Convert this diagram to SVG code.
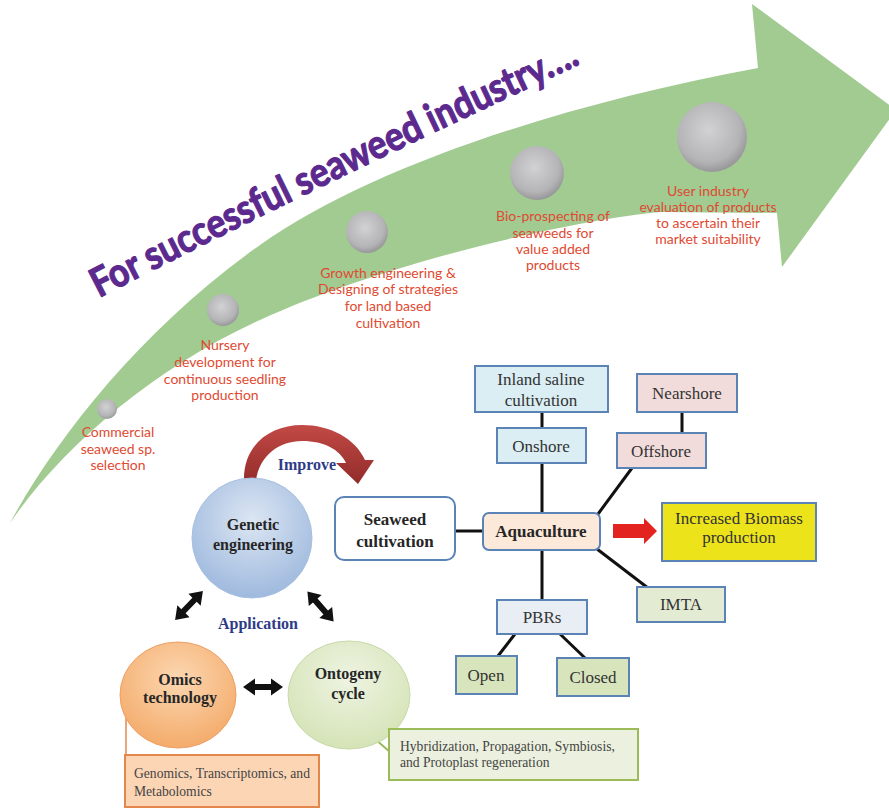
<svg xmlns="http://www.w3.org/2000/svg" width="889" height="808" viewBox="0 0 889 808">
  <defs>
    <radialGradient id="dot" cx="0.45" cy="0.4" r="0.65">
      <stop offset="0" stop-color="#d2d2d4"/>
      <stop offset="0.7" stop-color="#b4b4b6"/>
      <stop offset="1" stop-color="#8e8e90"/>
    </radialGradient>
    <radialGradient id="gBlue" cx="0.5" cy="0.35" r="0.7">
      <stop offset="0" stop-color="#dce6f3"/>
      <stop offset="1" stop-color="#9ab6dc"/>
    </radialGradient>
    <radialGradient id="gOrange" cx="0.5" cy="0.35" r="0.7">
      <stop offset="0" stop-color="#fcd7b2"/>
      <stop offset="1" stop-color="#f3a865"/>
    </radialGradient>
    <radialGradient id="gGreen" cx="0.5" cy="0.35" r="0.7">
      <stop offset="0" stop-color="#eef4e2"/>
      <stop offset="1" stop-color="#d3e2b3"/>
    </radialGradient>
    <linearGradient id="gRed" x1="0" y1="0" x2="0" y2="1">
      <stop offset="0" stop-color="#c24a46"/>
      <stop offset="1" stop-color="#922b2a"/>
    </linearGradient>
    <path id="dbl" d="M -20 0 L -8 -8.5 L -8 -3 L 8 -3 L 8 -8.5 L 20 0 L 8 8.5 L 8 3 L -8 3 L -8 8.5 Z"/>
    <path id="titlePath" d="M 99 298 Q 324 182 602 54"/>
    <style>
      .step { font-family: Lato, "Liberation Sans", sans-serif; font-size: 14px; fill: #df4a32; text-anchor: middle; }
      .box { stroke: #5b83b5; stroke-width: 2; }
      .lbl { font-family: "Liberation Serif", serif; font-size: 17px; fill: #333; text-anchor: middle; }
      .bold { font-weight: bold; fill: #262626; }
      .circ { font-family: "Liberation Serif", serif; font-size: 16px; font-weight: bold; fill: #262626; text-anchor: middle; }
      .navy { font-family: "Liberation Serif", serif; font-size: 16px; font-weight: bold; fill: #2e3b86; text-anchor: middle; }
      .note { font-family: "Liberation Serif", serif; font-size: 13.6px; fill: #444; }
      .link { stroke: #111; stroke-width: 3; fill: none; }
    </style>
  </defs>

  <rect width="889" height="808" fill="#ffffff"/>

  <!-- big curved green arrow -->
  <g id="roadmap">
    <path fill="#a2cb92" d="M 10 523 C 55 440 140 330 260 245 C 370 167 560 105 758 68 L 752 4 L 896 110 L 782 267 L 777 213 L 660 212 C 560 222 380 265 260 320 C 150 370 60 450 10 523 Z"/>
    <text font-family="Lato, 'Liberation Sans', sans-serif" font-weight="bold" font-size="40" fill="#5c2a8e" stroke="#5c2a8e" stroke-width="1.2" stroke-linejoin="round">
      <textPath href="#titlePath" textLength="536" lengthAdjust="spacingAndGlyphs">For successful seaweed industry….</textPath>
    </text>
  </g>

  <g id="step1">
    <circle cx="107" cy="409" r="10" fill="url(#dot)"/>
    <text class="step"><tspan x="118" y="437">Commercial</tspan><tspan x="118" y="453.5">seaweed sp.</tspan><tspan x="118" y="470">selection</tspan></text>
  </g>
  <g id="step2">
    <circle cx="223" cy="310" r="16" fill="url(#dot)"/>
    <text class="step"><tspan x="225" y="350">Nursery</tspan><tspan x="225" y="367">development for</tspan><tspan x="225" y="384">continuous seedling</tspan><tspan x="225" y="400">production</tspan></text>
  </g>
  <g id="step3">
    <circle cx="367" cy="232" r="21" fill="url(#dot)"/>
    <text class="step"><tspan x="388" y="278">Growth engineering &amp;</tspan><tspan x="388" y="294">Designing of strategies</tspan><tspan x="388" y="311">for land based</tspan><tspan x="388" y="328">cultivation</tspan></text>
  </g>
  <g id="step4">
    <circle cx="537" cy="173" r="27" fill="url(#dot)"/>
    <text class="step"><tspan x="553" y="221">Bio-prospecting of</tspan><tspan x="553" y="238">seaweeds for</tspan><tspan x="553" y="254">value added</tspan><tspan x="553" y="270">products</tspan></text>
  </g>
  <g id="step5">
    <circle cx="712" cy="137" r="35" fill="url(#dot)"/>
    <text class="step"><tspan x="708" y="196">User industry</tspan><tspan x="708" y="212">evaluation of products</tspan><tspan x="708" y="228">to ascertain their</tspan><tspan x="708" y="244">market suitability</tspan></text>
  </g>

  <!-- connectors -->
  <g id="connectors">
    <path fill="url(#gRed)" d="M 244 481 C 243 445 270 425 302 425 C 330 425 355 438 365 460 L 374 460 L 358 484 L 336 463 L 346 463 C 340 450 325 441 302 441 C 280 441 259 455 256 481 Z"/>
    <use href="#dbl" fill="#111" transform="translate(189 605.5) rotate(-46)"/>
    <use href="#dbl" fill="#111" transform="translate(320.5 606.5) rotate(49)"/>
    <use href="#dbl" fill="#111" transform="translate(263 687)"/>
    <line x1="126" y1="708" x2="126" y2="755" stroke="#e3884a" stroke-width="1.5"/>
    <line x1="368" y1="733" x2="390" y2="752" stroke="#9bbb59" stroke-width="2"/>
    <line class="link" x1="455" y1="531" x2="483" y2="531"/>
    <line class="link" x1="542" y1="412" x2="542" y2="428"/>
    <line class="link" x1="542" y1="463" x2="542" y2="513"/>
    <line class="link" x1="682" y1="412" x2="682" y2="433"/>
    <line class="link" x1="632" y1="468" x2="598" y2="514"/>
    <line class="link" x1="597" y1="549" x2="648" y2="588"/>
    <line class="link" x1="542" y1="550" x2="542" y2="600"/>
    <line class="link" x1="515" y1="634" x2="498" y2="656"/>
    <line class="link" x1="560" y1="634" x2="585" y2="658"/>
    <polygon fill="#e2231f" points="613,524 644,524 644,518 657,531 644,544 644,538 613,538"/>
  </g>

  <g id="improve">
    <text class="navy" x="307" y="470">Improve</text>
  </g>
  <g id="application">
    <text class="navy" x="258" y="629">Application</text>
  </g>

  <g id="genetic">
    <circle cx="252" cy="538" r="60" fill="url(#gBlue)" stroke="#a9c0e0" stroke-width="1"/>
    <text class="circ"><tspan x="253" y="530">Genetic</tspan><tspan x="253" y="550">engineering</tspan></text>
  </g>
  <g id="omics">
    <ellipse cx="178" cy="695" rx="58" ry="53" fill="url(#gOrange)" stroke="#eda066" stroke-width="1"/>
    <text class="circ"><tspan x="180" y="685">Omics</tspan><tspan x="180" y="703">technology</tspan></text>
  </g>
  <g id="ontogeny">
    <ellipse cx="349" cy="695" rx="61" ry="54" fill="url(#gGreen)" stroke="#c9d9aa" stroke-width="1"/>
    <text class="circ"><tspan x="348" y="679">Ontogeny</tspan><tspan x="348" y="699">cycle</tspan></text>
  </g>
  <g id="genomics">
    <rect x="125" y="755" width="194" height="52" fill="#fcd5b4" stroke="#e3884a" stroke-width="2"/>
    <text class="note"><tspan x="134" y="778">Genomics, Transcriptomics, and</tspan><tspan x="134" y="796">Metabolomics</tspan></text>
  </g>
  <g id="hybridization">
    <rect x="389" y="729" width="249" height="51" fill="#ebf1de" stroke="#9bbb59" stroke-width="2"/>
    <text class="note"><tspan x="400" y="751">Hybridization,  Propagation, Symbiosis,</tspan><tspan x="400" y="767">and Protoplast regeneration</tspan></text>
  </g>

  <g id="seaweed-cultivation">
    <rect class="box" x="335" y="497" width="120" height="63" rx="9" fill="#ffffff"/>
    <text class="lbl bold"><tspan x="395" y="525">Seaweed</tspan><tspan x="395" y="547">cultivation</tspan></text>
  </g>
  <g id="aquaculture">
    <rect class="box" x="483" y="513" width="117" height="37" rx="6" fill="#fde9d9"/>
    <text class="lbl bold" x="541" y="537">Aquaculture</text>
  </g>
  <g id="inland">
    <rect class="box" x="475" y="366" width="133" height="46" fill="#dbeef3"/>
    <text class="lbl"><tspan x="541" y="385">Inland  saline</tspan><tspan x="541" y="406">cultivation</tspan></text>
  </g>
  <g id="onshore">
    <rect class="box" x="497" y="428" width="89" height="35" fill="#dbeef3"/>
    <text class="lbl" x="541" y="452">Onshore</text>
  </g>
  <g id="nearshore">
    <rect class="box" x="637" y="374" width="100" height="38" fill="#f2dcdb"/>
    <text class="lbl" x="687" y="399">Nearshore</text>
  </g>
  <g id="offshore">
    <rect class="box" x="617" y="433" width="89" height="35" fill="#f2dcdb"/>
    <text class="lbl" x="661" y="457">Offshore</text>
  </g>
  <g id="biomass">
    <rect class="box" x="662" y="503" width="154" height="58" fill="#ede31b"/>
    <text class="lbl" font-size="16"><tspan x="739" y="524">Increased Biomass</tspan><tspan x="739" y="543">production</tspan></text>
  </g>
  <g id="imta">
    <rect class="box" x="637" y="587" width="88" height="35" fill="#e3ebd3"/>
    <text class="lbl" x="681" y="610">IMTA</text>
  </g>
  <g id="pbrs">
    <rect class="box" x="497" y="600" width="90" height="34" fill="#e9edf4"/>
    <text class="lbl" x="542" y="623">PBRs</text>
  </g>
  <g id="open">
    <rect class="box" x="456" y="656" width="61" height="38" fill="#d7e4bc"/>
    <text class="lbl" x="486" y="681">Open</text>
  </g>
  <g id="closed">
    <rect class="box" x="557" y="658" width="72" height="38" fill="#d7e4bc"/>
    <text class="lbl" x="593" y="683">Closed</text>
  </g>
</svg>
